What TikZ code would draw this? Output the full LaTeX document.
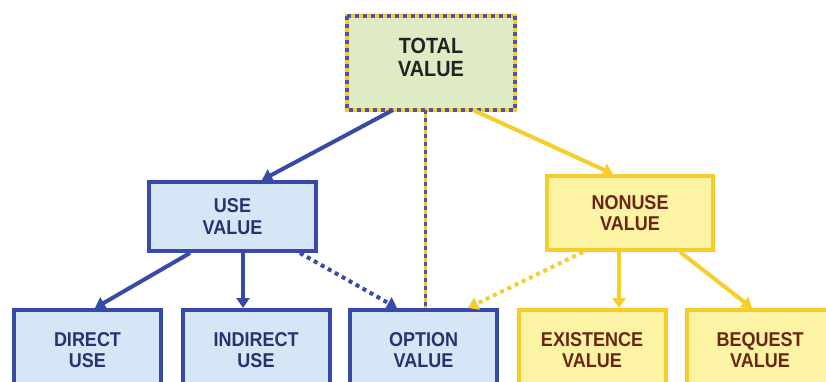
\documentclass[tikz,border=0pt]{standalone}
\usepackage{fontspec}
\setmainfont[FakeStretch=0.9]{Liberation Sans}
\usetikzlibrary{arrows.meta,calc}

\definecolor{useline}{RGB}{56,74,168}
\definecolor{usefill}{RGB}{214,230,246}
\definecolor{usetext}{RGB}{40,50,108}
\definecolor{nonline}{RGB}{246,206,44}
\definecolor{nonfill}{RGB}{252,243,165}
\definecolor{nontext}{RGB}{106,38,18}
\definecolor{totfill}{RGB}{222,235,196}
\definecolor{tottext}{RGB}{34,34,34}
\definecolor{stripeblue}{RGB}{84,82,168}

\tikzset{
  box/.style={draw, line width=4pt, align=center, inner sep=0pt,
    font=\bfseries\fontsize{20}{21.6}\selectfont},
  usebox/.style={box, draw=useline, fill=usefill, text=usetext},
  nonbox/.style={box, draw=nonline, fill=nonfill, text=nontext},
  leafbox/.style={minimum width=147pt, minimum height=80pt},
  tip/.style={-{Triangle[width=13pt,length=10pt]}},
  bluelink/.style={tip, draw=useline, line width=4pt},
  yellowlink/.style={tip, draw=nonline, line width=4pt},
  dotlink/.style={dash pattern=on 4pt off 4pt},
  stripe/.style={line width=4pt, draw=stripeblue, dash pattern=on 4pt off 4pt}
}

\begin{document}
\begin{tikzpicture}[x=1pt,y=-1pt]
  \clip (0,0) rectangle (826,381);
  \fill[white] (0,0) rectangle (826,381);

  % top level: yellow frame overlaid with blue dashes
  \node[box, draw=nonline, fill=totfill, outer sep=0pt, minimum width=168pt, minimum height=94pt] (total) at (431,63) {};
  \draw[stripe] (total.north west) rectangle (total.south east);
  \node[text=tottext, align=center, font=\bfseries\fontsize{22}{23}\selectfont] (totaltext) at ([yshift=6pt]total.center) {TOTAL\\VALUE};

  % second level
  \node[usebox, minimum width=167pt, minimum height=69pt] (use) at (232.5,216.5) {USE\\VALUE};
  \node[nonbox, minimum width=166pt, minimum height=74pt] (nonuse) at (630,213) {NONUSE\\VALUE};

  % third level
  \node[usebox, leafbox] (direct)    at (87.5,350) {DIRECT\\USE};
  \node[usebox, leafbox] (indirect)  at (256,350)  {INDIRECT\\USE};
  \node[usebox, leafbox] (option)    at (423.5,350) {OPTION\\VALUE};
  \node[nonbox, leafbox] (existence) at (592,350)  {EXISTENCE\\VALUE};
  \node[nonbox, leafbox] (bequest)   at (760,350)  {BEQUEST\\VALUE};

  % links from the total
  \draw[bluelink] ([xshift=-38pt]total.south) -- ([xshift=29.5pt]use.north);
  \draw[yellowlink] ([xshift=42pt]total.south) -- ([xshift=-17pt]nonuse.north);
  \draw[line width=3.5pt, draw=nonline] ([xshift=-5.5pt]total.south) -- ([xshift=2pt]option.north);
  \draw[stripe, line width=3.5pt] ([xshift=-5.5pt]total.south) -- ([xshift=2pt]option.north);

  % links from use value
  \draw[bluelink] ([xshift=-42.5pt]use.south) -- ([xshift=7.5pt]direct.north);
  \draw[bluelink] ([xshift=10.5pt]use.south) -- ([xshift=-13pt]indirect.north);
  \draw[bluelink, dotlink] ([xshift=67.5pt]use.south) -- ([xshift=-26.5pt]option.north);

  % links from nonuse value
  \draw[yellowlink, dotlink] ([xshift=-47pt]nonuse.south) -- ([xshift=44.5pt]option.north);
  \draw[yellowlink] ([xshift=-11pt]nonuse.south) -- ([xshift=27pt]existence.north);
  \draw[yellowlink] ([xshift=50pt]nonuse.south) -- ([xshift=-8pt]bequest.north);
\end{tikzpicture}
\end{document}
